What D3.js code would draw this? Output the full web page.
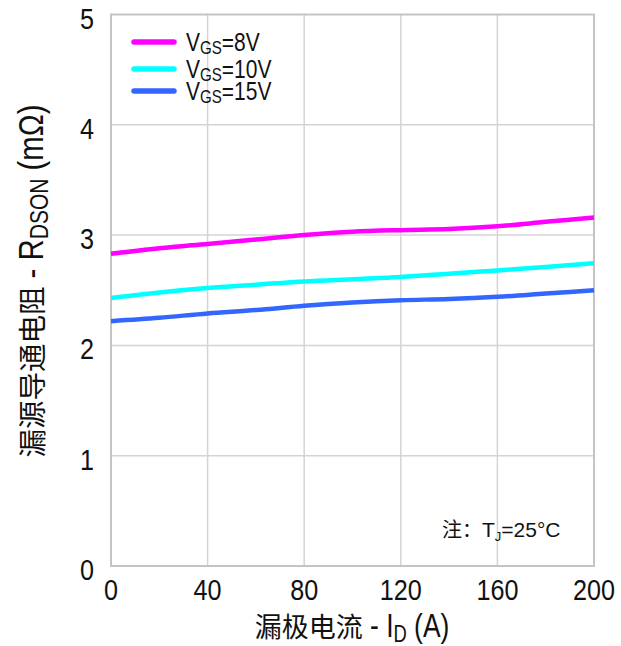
<!DOCTYPE html>
<html>
<head>
<meta charset="utf-8">
<script src="https://cdn.jsdelivr.net/npm/d3@7"></script>
<style>
body { margin: 0; background: #fff; }
text { font-family: "Liberation Sans", Arial, sans-serif; fill: #111; white-space: pre; }
.cjk { font-family: "Noto Sans CJK SC", "Liberation Sans", sans-serif; }
</style>
</head>
<body>
<div id="chart"></div>
<script>
// drain current (A)
const currents = [0, 20, 40, 60, 80, 100, 120, 140, 160, 180, 200];
// Rdson (mOhm) per gate voltage
const vgs8 = [2.83, 2.88, 2.92, 2.96, 3.00, 3.03, 3.045, 3.055, 3.08, 3.12, 3.16];
const vgs10 = [2.43, 2.48, 2.52, 2.55, 2.58, 2.60, 2.62, 2.65, 2.68, 2.71, 2.745];
const vgs15 = [2.22, 2.25, 2.29, 2.32, 2.36, 2.39, 2.41, 2.42, 2.44, 2.47, 2.50];
const xTicks = [0, 40, 80, 120, 160, 200];
const yTicks = [0, 1, 2, 3, 4, 5];
const seriesNames = ["8V", "10V", "15V"];
const seriesColors = ["#ff00ff", "#00ffff", "#3366ff"];

const width = 621, height = 646;
const margin = { left: 111, right: 27, top: 14.5, bottom: 80 };
const sx = 0.84; // latin text in the original is narrow

const svg = d3.select("#chart").append("svg")
	.attr("width", width)
	.attr("height", height);

const x = d3.scaleLinear().domain([0, 200]).range([margin.left, width - margin.right]);
const y = d3.scaleLinear().domain([0, 5]).range([height - margin.bottom, margin.top]);

// grid
svg.append("g")
	.selectAll("line")
	.data(xTicks.slice(1, -1))
	.enter().append("line")
	.attr("x1", d => x(d)).attr("x2", d => x(d))
	.attr("y1", y(0)).attr("y2", y(5))
	.attr("stroke", "#d4d4d4").attr("stroke-width", 1.5);
svg.append("g")
	.selectAll("line")
	.data(yTicks.slice(1, -1))
	.enter().append("line")
	.attr("x1", x(0)).attr("x2", x(200))
	.attr("y1", d => y(d)).attr("y2", d => y(d))
	.attr("stroke", "#d4d4d4").attr("stroke-width", 1.5);

// frame
svg.append("rect")
	.attr("x", x(0)).attr("y", y(5))
	.attr("width", x(200) - x(0)).attr("height", y(0) - y(5))
	.attr("fill", "none").attr("stroke", "#c4c4c4").attr("stroke-width", 2);

// tick labels
svg.append("g")
	.selectAll("text")
	.data(yTicks)
	.enter().append("text")
	.attr("transform", d => `translate(94,${y(d) + 14}) scale(${sx},1)`)
	.attr("text-anchor", "end")
	.attr("font-size", 30)
	.text(d => d);
svg.append("g")
	.selectAll("text")
	.data(xTicks)
	.enter().append("text")
	.attr("transform", d => `translate(${x(d)},600) scale(${sx},1)`)
	.attr("text-anchor", "middle")
	.attr("font-size", 30)
	.text(d => d);

// lines
const line = d3.line()
	.x((d, i) => x(currents[i]))
	.y(d => y(d))
	.curve(d3.curveMonotoneX);
[vgs8, vgs10, vgs15].forEach((s, i) => {
	svg.append("path")
		.datum(s)
		.attr("d", line)
		.attr("fill", "none")
		.attr("stroke", seriesColors[i])
		.attr("stroke-width", 4.5);
});

// text made of pieces: each piece its own size / squeeze / baseline shift
function richText(g, parts, anchor) {
	let cur = 0;
	parts.forEach(p => {
		const t = g.append("text")
			.attr("font-size", p.size)
			.attr("xml:space", "preserve")
			.attr("class", p.cjk ? "cjk" : null)
			.attr("transform", `translate(${cur},${p.dy || 0}) scale(${p.sx || 1},1)`)
			.text(p.text);
		cur += t.node().getComputedTextLength() * (p.sx || 1);
	});
	if (anchor == "middle") {
		g.selectAll("text").each(function () {
			const tr = d3.select(this).attr("transform");
			d3.select(this).attr("transform", `translate(${-cur / 2},0) ` + tr);
		});
	}
	return cur;
}

// legend
seriesNames.forEach((name, i) => {
	const ly = [42, 69, 91][i];
	svg.append("line")
		.attr("x1", 134).attr("x2", 174)
		.attr("y1", ly).attr("y2", ly)
		.attr("stroke", seriesColors[i])
		.attr("stroke-width", 5.5)
		.attr("stroke-linecap", "round");
	richText(svg.append("g").attr("transform", `translate(186,${ly + 9})`), [
		{ text: "V", size: 25, sx: sx },
		{ text: "GS", size: 18, sx: sx, dy: 3 },
		{ text: "=" + name, size: 25, sx: sx }
	]);
});

// note
richText(svg.append("g").attr("transform", "translate(442,537)"), [
	{ text: "注：", size: 20, cjk: true },
	{ text: "T", size: 21 },
	{ text: "J", size: 13, dy: 4 },
	{ text: "=25°C", size: 21 }
]);

// x label
richText(svg.append("g").attr("transform", "translate(352,637)"), [
	{ text: "漏极电流", size: 27, cjk: true },
	{ text: " - I", size: 33, sx: 0.8 },
	{ text: "D", size: 23, sx: 0.8, dy: 5 },
	{ text: " (A)", size: 33, sx: 0.8 }
], "middle");

// y label
richText(svg.append("g").attr("transform", "translate(43,281) rotate(-90)"), [
	{ text: "漏源导通电阻", size: 28.5, cjk: true },
	{ text: " - R", size: 35, sx: 0.84 },
	{ text: "DSON", size: 25, sx: 0.84, dy: 5 },
	{ text: " (mΩ)", size: 35, sx: 0.84 }
], "middle");
</script>
</body>
</html>
